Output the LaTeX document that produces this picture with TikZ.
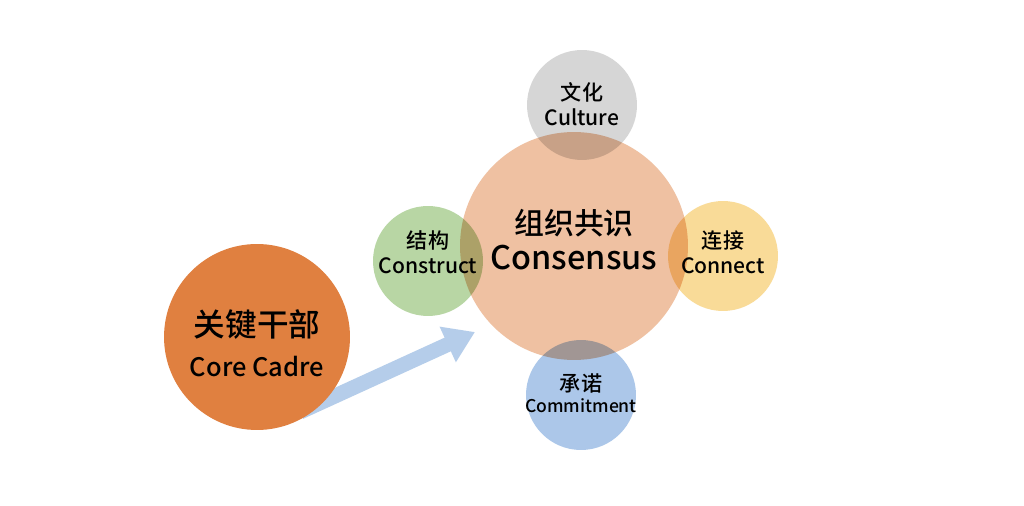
\documentclass[tikz,border=0pt]{standalone}
\usepackage{fontspec}
\setmainfont{Noto Sans CJK SC}[BoldFont={Noto Sans CJK SC Medium}]
\usetikzlibrary{arrows.meta}
\definecolor{coreorange}{RGB}{224,128,64}
\definecolor{hubsalmon}{RGB}{239,193,162}
\definecolor{cultgray}{RGB}{214,214,214}
\definecolor{constrgreen}{RGB}{184,214,164}
\definecolor{connyellow}{RGB}{249,219,152}
\definecolor{commitblue}{RGB}{172,199,233}
\definecolor{arrowblue}{RGB}{181,205,234}
\tikzset{
corecirc/.style={circle,fill=coreorange,minimum size=3.72cm,inner sep=0pt},
hubcirc/.style={circle,fill=hubsalmon,minimum size=4.56cm,inner sep=0pt},
petal/.style={circle,minimum size=2.2cm,inner sep=0pt},
petaltext/.style={align=center,inner sep=0pt,font=\bfseries\fontsize{12}{14}\selectfont},
pusharr/.style={draw=arrowblue,line width=0.3cm,-{Triangle[width=0.74cm,length=0.6cm]}}
}
\begin{document}
\begin{tikzpicture}[x=0.02cm,y=-0.02cm]
\useasboundingbox (0,0) rectangle (1024,506);
\fill[white] (0,0) rectangle (1024,506);
% hub and petals
\begin{scope}[blend group=multiply]
\node[hubcirc] (cons) at (574,246) {};
\node[petal,fill=cultgray] (cult) at (582,105) {};
\node[petal,fill=constrgreen] (constr) at (428,261) {};
\node[petal,fill=connyellow] (conn) at (723,256) {};
\node[petal,fill=commitblue] (commit) at (581,395) {};
\end{scope}
\node[align=center,inner sep=0pt] (cons-t) at ([yshift=0.12cm]cons)
  {\bfseries\fontsize{17}{21}\selectfont 组织共识\\[3.5pt]
   \bfseries\fontsize{18.5}{21}\selectfont Consensus};
\node[petaltext] (cult-t) at ([yshift=0.02cm]cult) {文化\\Culture};
\node[petaltext] (constr-t) at ([yshift=0.18cm]constr) {结构\\Construct};
\node[petaltext] (conn-t) at ([yshift=0.08cm]conn) {连接\\Connect};
\node[petaltext] (commit-t) at ([yshift=0.04cm]commit) {承诺\\[-2pt]\fontsize{10}{12}\selectfont Commitment};
% push arrow
\coordinate (tail) at (300,412);
\coordinate (tip) at (475,332);
\draw[pusharr] (tail) -- (tip);
\node[corecirc] (core) at (257,337) {};
\node[align=center,inner sep=0pt] (core-t) at ([yshift=-0.12cm]core)
  {\bfseries\fontsize{18}{24}\selectfont 关键干部\\[8.5pt]
   \bfseries\fontsize{14.5}{24}\selectfont Core Cadre};
\end{tikzpicture}
\end{document}
